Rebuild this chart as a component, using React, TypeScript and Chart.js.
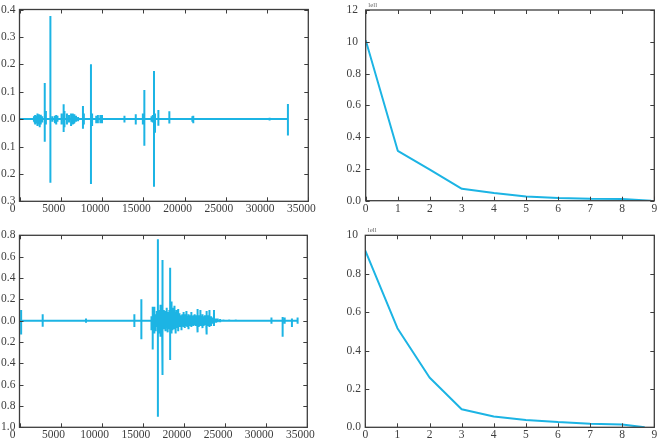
import { useEffect, useRef } from "react";
import { Chart, registerables } from "chart.js";

Chart.register(...registerables);

const LINE = "#1cb4e4";
const INK = "#3d3d3d";
const FONT = "'Liberation Serif', 'DejaVu Serif', serif";

// ---- upper signal: spike positions (samples) with positive / negative excursions ----
const upperSpikeX = [
  1750, 1850, 1900, 2050, 2150, 2200, 2350, 2450, 2550, 2600, 2750, 3060, 3200, 3744, 4000, 4300, 4450,
  4600, 5100, 5350, 5450, 5750, 6000, 6250, 6450, 6550, 6650, 6850, 7100, 7690, 7800, 8660,
  8800, 9300, 9500, 9800, 10000, 12720, 14090, 14950, 15130, 16000, 16150, 16300, 16420,
  16830, 18160, 20950, 21060, 30310, 32530,
];
const upperSpikeHi = [
  0.01, 0.012, 0.015, 0.012, 0.015, 0.02, 0.018, 0.012, 0.016, 0.015, 0.01, 0.132, 0.03, 0.376, 0.01, 0.012, 0.015,
  0.012, 0.02, 0.054, 0.03, 0.02, 0.015, 0.02, 0.02, 0.015, 0.018, 0.012, 0.008, 0.048, 0.02, 0.2,
  0.02, 0.012, 0.015, 0.015, 0.015, 0.012, 0.018, 0.02, 0.106, 0.01, 0.015, 0.176, 0.02,
  0.033, 0.029, 0.01, 0.012, 0.005, 0.055,
];
const upperSpikeLo = [
  -0.01, -0.015, -0.02, -0.015, -0.02, -0.025, -0.02, -0.03, -0.02, -0.015, -0.012, -0.083, -0.02, -0.232, -0.01, -0.015, -0.02,
  -0.01, -0.02, -0.047, -0.03, -0.02, -0.012, -0.025, -0.02, -0.018, -0.015, -0.01, -0.008, -0.035, -0.02, -0.237,
  -0.025, -0.015, -0.015, -0.015, -0.015, -0.012, -0.02, -0.02, -0.097, -0.01, -0.012, -0.247, -0.05,
  -0.024, -0.016, -0.01, -0.015, -0.005, -0.06,
];
const upperSignalEnd = 32530;

// ---- lower signal ----
const lowerSpikeX = [
  200, 2820, 8090, 13970, 14820, 16050, 16200, 16300, 16400, 16500, 16600, 16700, 16830, 16950, 17030,
  17100, 17180, 17250, 17340, 17430, 17550, 17620, 17700, 17800, 17900, 17980, 18050, 18150, 18230,
  18320, 18450, 18520, 18600, 18700, 18800, 18880, 18950, 19020, 19100, 19200, 19300, 19400, 19500,
  19600, 19700, 19800, 19900, 20000, 20100, 20200, 20300, 20400, 20500, 20600, 20700, 20800, 20900,
  21000, 21100, 21200, 21300, 21450, 21600, 21700, 21800, 21900, 22000, 22100, 22200, 22300, 22400,
  22550, 22700, 22800, 22900, 23000, 23100, 23200, 23300, 23450, 23650, 23900, 24100, 24400, 24800,
  25500, 26300, 30640, 32000, 32250, 33130, 33820,
];
const lowerSpikeHi = [
  0.1, 0.06, 0.02, 0.06, 0.2, 0.04, 0.13, 0.07, 0.13, 0.06, 0.05, 0.09, 0.762, 0.08, 0.1,
  0.15, 0.07, 0.06, 0.1, 0.568, 0.1, 0.06, 0.07, 0.09, 0.12, 0.05, 0.08, 0.06, 0.1,
  0.496, 0.18, 0.07, 0.12, 0.06, 0.14, 0.05, 0.06, 0.08, 0.1, 0.05, 0.11, 0.04, 0.07,
  0.05, 0.05, 0.06, 0.08, 0.04, 0.06, 0.05, 0.09, 0.04, 0.06, 0.05, 0.05, 0.04, 0.08,
  0.04, 0.05, 0.04, 0.06, 0.05, 0.11, 0.04, 0.05, 0.04, 0.1, 0.04, 0.06, 0.04, 0.04,
  0.05, 0.09, 0.04, 0.05, 0.04, 0.1, 0.03, 0.04, 0.03, 0.1, 0.02, 0.02, 0.015, 0.01,
  0.01, 0.01, 0.03, 0.035, 0.03, 0.02, 0.03,
];
const lowerSpikeLo = [
  -0.13, -0.057, -0.02, -0.06, -0.175, -0.09, -0.27, -0.08, -0.12, -0.07, -0.1, -0.06, -0.9, -0.12, -0.08,
  -0.15, -0.06, -0.08, -0.09, -0.51, -0.08, -0.07, -0.1, -0.06, -0.07, -0.09, -0.11, -0.05, -0.08,
  -0.37, -0.12, -0.06, -0.09, -0.07, -0.08, -0.06, -0.12, -0.05, -0.06, -0.07, -0.1, -0.05, -0.06,
  -0.04, -0.09, -0.05, -0.05, -0.06, -0.07, -0.04, -0.05, -0.06, -0.08, -0.04, -0.04, -0.05, -0.06,
  -0.04, -0.05, -0.04, -0.04, -0.05, -0.11, -0.04, -0.06, -0.04, -0.05, -0.04, -0.07, -0.04, -0.05,
  -0.04, -0.13, -0.04, -0.04, -0.05, -0.06, -0.03, -0.05, -0.03, -0.05, -0.02, -0.015, -0.015, -0.01,
  -0.01, -0.01, -0.03, -0.15, -0.03, -0.06, -0.03,
];
const lowerSignalEnd = 33820;

// ---- decay curves ----
const upperDecayX = [0, 1, 2, 3, 4, 5, 6, 7, 8, 8.9];
const upperDecayY = [1.01, 0.314, 0.195, 0.075, 0.048, 0.027, 0.017, 0.013, 0.01, 0.0];
const lowerDecayX = [0, 1, 2, 3, 4, 5, 6, 7, 8, 8.7];
const lowerDecayY = [0.92, 0.516, 0.259, 0.094, 0.056, 0.038, 0.028, 0.019, 0.014, 0.0];

const signalTicksX = [0, 35000, 5000];
const upperSignalRange = [-0.3, 0.4, 0.1];
const lowerSignalRange = [-1.0, 0.8, 0.2];
const decayTicksX = [0, 9, 1];
const upperDecayRange = [0, 1.2, 0.2];
const lowerDecayRange = [0, 1.0, 0.2];
const exponentText = "lell";

type Pt = { x: number; y: number };

function spikeTrace(xs: number[], hi: number[], lo: number[], end: number): Pt[] {
  const pts: Pt[] = [{ x: 0, y: 0 }];
  xs.forEach((x, i) => {
    pts.push({ x, y: 0 }, { x, y: hi[i] }, { x, y: lo[i] }, { x, y: 0 });
  });
  pts.push({ x: end, y: 0 });
  return pts;
}

function zipPts(xs: number[], ys: number[]): Pt[] {
  return xs.map((x, i) => ({ x, y: ys[i] }));
}

// frame around the plot area with inward ticks on all four sides
const frameTicks = {
  id: "frameTicks",
  afterDatasetsDraw(chart: any) {
    const { ctx, chartArea: a, scales } = chart;
    const len = 4;
    ctx.save();
    ctx.strokeStyle = INK;
    ctx.lineWidth = 1;
    const seg = (x1: number, y1: number, x2: number, y2: number) => {
      ctx.beginPath();
      ctx.moveTo(x1, y1);
      ctx.lineTo(x2, y2);
      ctx.stroke();
    };
    scales.x.ticks.forEach((t: any) => {
      const px = Math.round(scales.x.getPixelForValue(t.value)) + 0.5;
      seg(px, a.bottom, px, a.bottom - len);
      seg(px, a.top, px, a.top + len);
    });
    scales.y.ticks.forEach((t: any) => {
      const py = Math.round(scales.y.getPixelForValue(t.value)) + 0.5;
      seg(a.left, py, a.left + len, py);
      seg(a.right, py, a.right - len, py);
    });
    ctx.lineWidth = 1.3;
    ctx.strokeRect(a.left, a.top, a.right - a.left, a.bottom - a.top);
    const note = chart.options.plugins.frameTicks?.note;
    if (note) {
      ctx.fillStyle = "#6a6a6a";
      ctx.font = `7px ${FONT}`;
      ctx.textBaseline = "alphabetic";
      ctx.textAlign = "left";
      ctx.fillText(note, a.left + 2.5, a.top - 3);
    }
    ctx.restore();
  },
};

type PanelProps = {
  left: number;
  top: number;
  width: number;
  height: number;
  pad: { left: number; top: number; right: number; bottom: number };
  yWidth: number;
  xHeight: number;
  data: Pt[];
  xRange: number[];
  yRange: number[];
  yLabel: (v: number) => string;
  xLabelOffset: number;
  note?: string;
};

function Panel(p: PanelProps) {
  const ref = useRef<HTMLCanvasElement>(null);
  useEffect(() => {
    if (!ref.current) return;
    const tickFont = { family: FONT, size: 11.5 };
    const chart = new Chart(ref.current, {
      type: "line",
      data: {
        datasets: [
          {
            data: p.data,
            borderColor: LINE,
            borderWidth: 2,
            pointRadius: 0,
            tension: 0,
            borderJoinStyle: "bevel",
            fill: false,
          },
        ],
      },
      options: {
        animation: false,
        responsive: false,
        maintainAspectRatio: false,
        layout: { padding: p.pad },
        plugins: {
          legend: { display: false },
          tooltip: { enabled: false },
          frameTicks: { note: p.note },
        } as any,
        scales: {
          x: {
            type: "linear",
            min: p.xRange[0],
            max: p.xRange[1],
            grid: { display: false, drawTicks: false },
            border: { display: false },
            ticks: {
              stepSize: p.xRange[2],
              autoSkip: false,
              maxRotation: 0,
              padding: 1,
              labelOffset: p.xLabelOffset,
              color: INK,
              font: tickFont,
              callback: (v: any) => String(Math.round(Number(v) * 1000) / 1000),
            },
            afterFit: (s: any) => {
              s.height = p.xHeight;
            },
          },
          y: {
            type: "linear",
            min: p.yRange[0],
            max: p.yRange[1],
            grid: { display: false, drawTicks: false },
            border: { display: false },
            ticks: {
              stepSize: p.yRange[2],
              autoSkip: false,
              crossAlign: "far",
              padding: 2,
              color: INK,
              font: tickFont,
              callback: (v: any) => p.yLabel(Number(v)),
            },
            afterFit: (s: any) => {
              s.width = p.yWidth;
            },
          },
        },
      },
      plugins: [frameTicks],
    } as any);
    return () => chart.destroy();
  }, []);
  return (
    <canvas
      ref={ref}
      width={p.width}
      height={p.height}
      style={{ position: "absolute", left: p.left, top: p.top, width: p.width, height: p.height }}
    />
  );
}

const signalLabel = (v: number) => Math.abs(v).toFixed(1);
const decayLabel = (v: number) => (v >= 0.999 ? String(Math.round(v * 10)) : v.toFixed(1));

export default function App() {
  return (
    <div
      style={{
        position: "fixed",
        left: 0,
        top: 0,
        width: 658,
        height: 446,
        overflow: "hidden",
        background: "#fff",
      }}
    >
      <Panel
        left={0}
        top={0}
        width={330}
        height={220}
        pad={{ left: 1, top: 9.5, right: 21.7, bottom: 0 }}
        yWidth={18.5}
        xHeight={18.7}
        data={spikeTrace(upperSpikeX, upperSpikeHi, upperSpikeLo, upperSignalEnd)}
        xRange={signalTicksX}
        yRange={upperSignalRange}
        yLabel={signalLabel}
        xLabelOffset={-7}
      />
      <Panel
        left={330}
        top={0}
        width={340}
        height={220}
        pad={{ left: 16.5, top: 10, right: 15.7, bottom: 0 }}
        yWidth={19.2}
        xHeight={19.3}
        data={zipPts(upperDecayX, upperDecayY)}
        xRange={decayTicksX}
        yRange={upperDecayRange}
        yLabel={decayLabel}
        xLabelOffset={0}
        note={exponentText}
      />
      <Panel
        left={0}
        top={220}
        width={330}
        height={226}
        pad={{ left: 1, top: 15.3, right: 22.7, bottom: 0 }}
        yWidth={18.5}
        xHeight={18.7}
        data={spikeTrace(lowerSpikeX, lowerSpikeHi, lowerSpikeLo, lowerSignalEnd)}
        xRange={signalTicksX}
        yRange={lowerSignalRange}
        yLabel={signalLabel}
        xLabelOffset={-7}
      />
      <Panel
        left={330}
        top={220}
        width={340}
        height={226}
        pad={{ left: 16.5, top: 15.3, right: 15.7, bottom: 0 }}
        yWidth={18.8}
        xHeight={18.7}
        data={zipPts(lowerDecayX, lowerDecayY)}
        xRange={decayTicksX}
        yRange={lowerDecayRange}
        yLabel={decayLabel}
        xLabelOffset={0}
        note={exponentText}
      />
    </div>
  );
}
